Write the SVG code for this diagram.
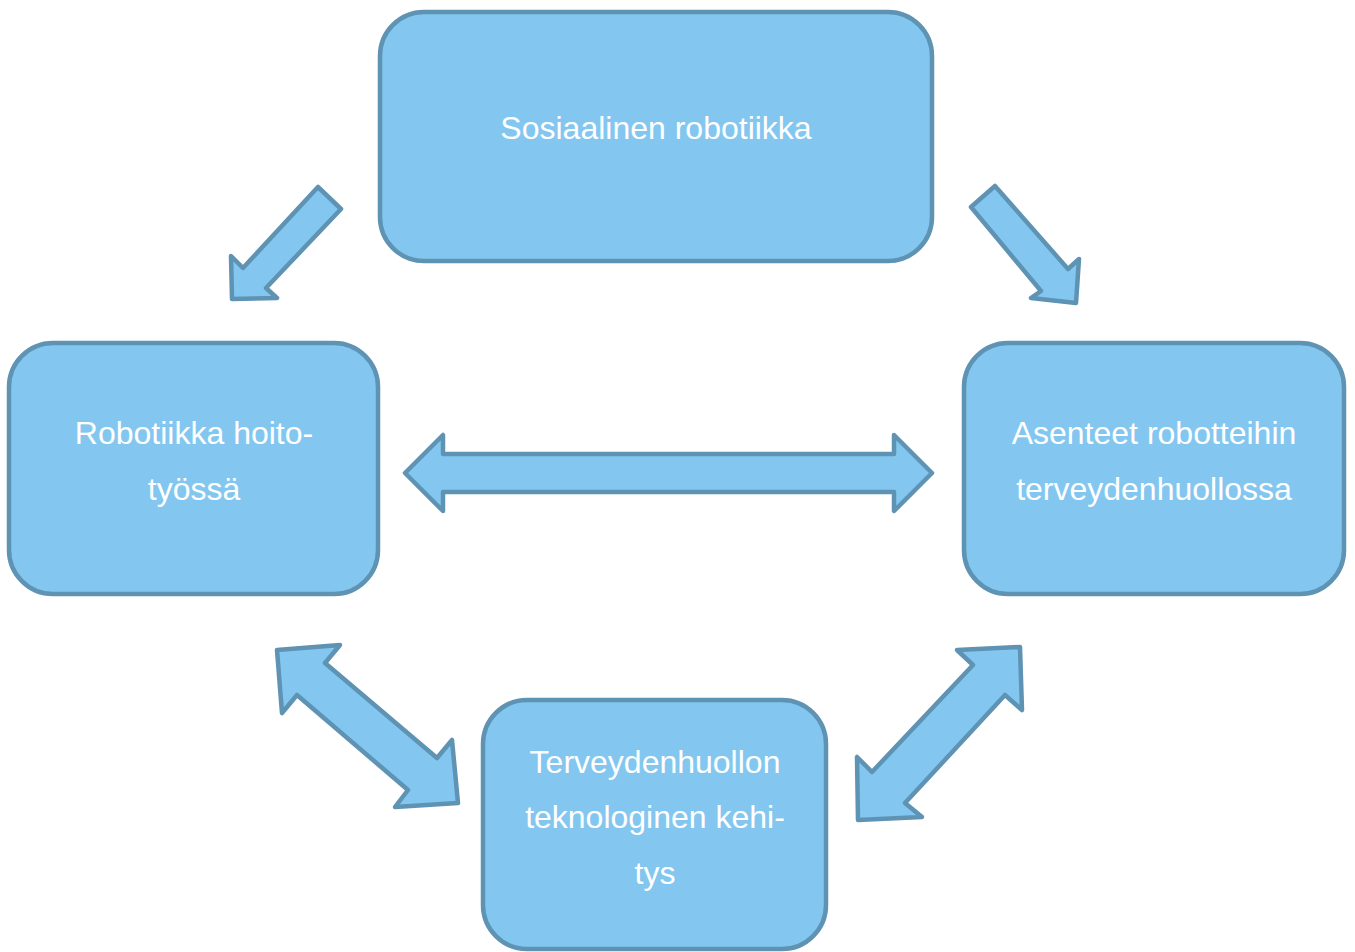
<svg xmlns="http://www.w3.org/2000/svg" width="1355" height="952" viewBox="0 0 1355 952">
<style>
.box{fill:#83c7f0;stroke:#5e93b3;stroke-width:4.5}
.arr{fill:#83c7f0;stroke:#5e93b3;stroke-width:4.5;stroke-linejoin:round}
.t{font-family:"Liberation Sans",Arial,sans-serif;font-size:32px;fill:#ffffff;text-anchor:middle}
</style>
<rect width="1355" height="952" fill="#ffffff"/>
<g id="node-sosiaalinen">
<rect class="box" x="380" y="12" width="552" height="249" rx="44"/>
<text class="t" x="656" y="139">Sosiaalinen robotiikka</text>
</g>
<g id="node-robotiikka">
<rect class="box" x="9" y="343" width="369" height="251" rx="44"/>
<text class="t" x="194" y="444">Robotiikka hoito-</text>
<text class="t" x="194" y="500">työssä</text>
</g>
<g id="node-asenteet">
<rect class="box" x="964" y="343" width="380" height="251" rx="44"/>
<text class="t" x="1154" y="444">Asenteet robotteihin</text>
<text class="t" x="1154" y="500">terveydenhuollossa</text>
</g>
<g id="node-terveydenhuollon">
<rect class="box" x="483" y="700" width="343" height="249" rx="44"/>
<text class="t" x="655" y="773">Terveydenhuollon</text>
<text class="t" x="655" y="828">teknologinen kehi-</text>
<text class="t" x="655" y="884">tys</text>
</g>
<g id="connectors">
<polygon class="arr" points="318,187 341,209 266,288 277,298 232,299 231,256 243,268"/>
<polygon class="arr" points="995,186 971,207 1041,291 1031,298 1076,303 1079,259 1068,269"/>
<polygon class="arr" points="405,473 443,435 443,454 894,454 894,435 932,473 894,511 894,492 443,492 443,511"/>
<polygon class="arr" points="277,650 340,645 325,663 437,758 452,740 458,803 395,807 408,790 297,695 282,713"/>
<polygon class="arr" points="1020,647 957,650 973,665 872,772 857,757 858,820 922,817 905,803 1005,695 1022,710"/>
</g>
</svg>
